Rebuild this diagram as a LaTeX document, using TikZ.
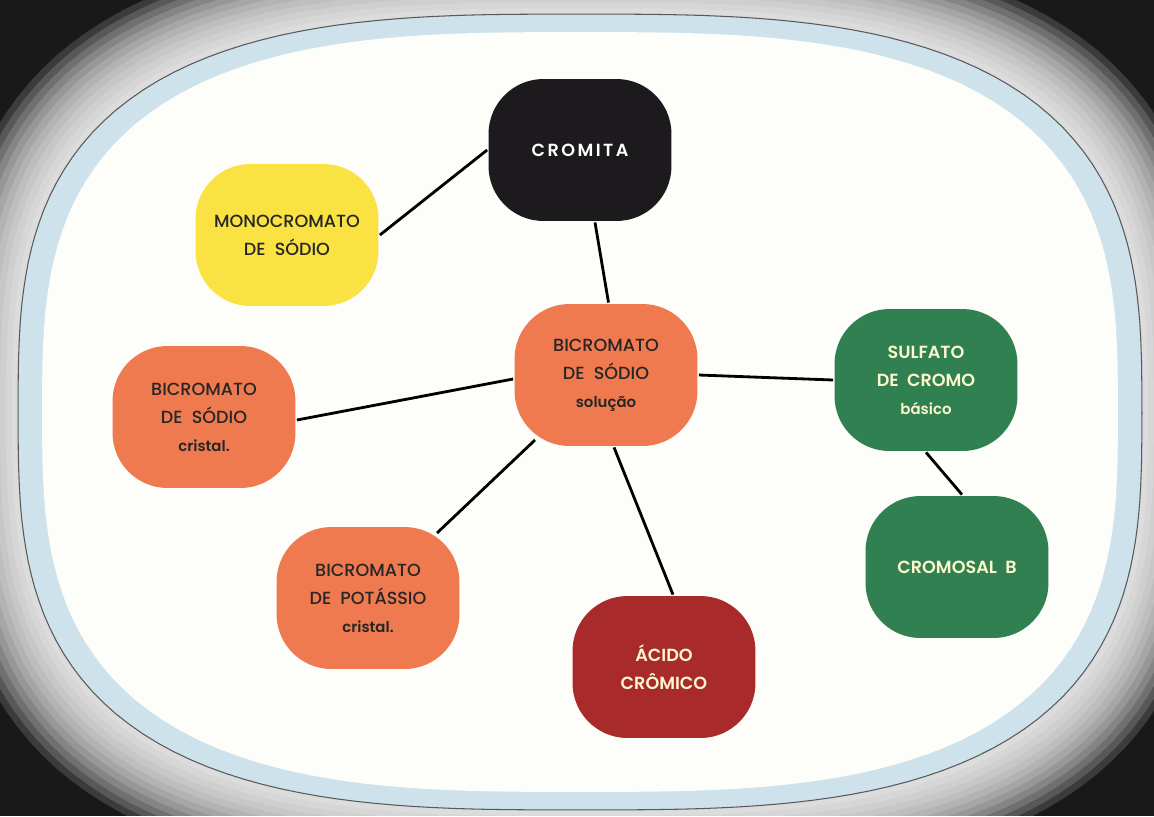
\documentclass[tikz,border=0pt]{standalone}
\usepackage{fontspec}
\setmainfont{Poppins}[UprightFont=* Medium,BoldFont=* SemiBold]
\usepackage{tikz}

\definecolor{tvblue}{RGB}{206,226,236}
\definecolor{paper}{RGB}{253,253,250}
\definecolor{cromita}{RGB}{28,26,28}
\definecolor{amarelo}{RGB}{249,226,66}
\definecolor{laranja}{RGB}{240,122,80}
\definecolor{verde}{RGB}{48,128,82}
\definecolor{vermelho}{RGB}{168,42,42}
\definecolor{creme}{RGB}{252,247,205}

\newcommand{\sublabel}[1]{{\fontsize{8.5}{16}\selectfont\bfseries #1}}

\tikzset{
  tvbox/.style={rounded corners=1.1cm,minimum width=3.66cm,minimum height=2.84cm,
    inner sep=0pt,align=center,font=\fontsize{10}{16}\selectfont},
  tvscreen/.style 2 args={insert path={plot[domain=0:360,samples=200,variable=\t]
    ({580+(#1)*cos(\t)/(abs(cos(\t))^3+abs(sin(\t))^3)^(1/3)},
     {412+(#2)*sin(\t)/(abs(cos(\t))^3+abs(sin(\t))^3)^(1/3)}) -- cycle}}
}

\begin{document}
\begin{tikzpicture}[x=0.02cm,y=-0.02cm,line width=1.6pt]
    \useasboundingbox (0,0) rectangle (1154,816);
    % dark frame around the screen
    \fill[black!90] (0,0) rectangle (1154,816);
    \begin{scope}
      \clip (0,0) rectangle (1154,816);
      \foreach \d in {1,...,12}
        \fill[white,opacity=0.15,tvscreen={562+6*\d}{398+6*\d}];
    \end{scope}
    \fill[tvblue,tvscreen={562}{398}];
    \draw[black!65,line width=0.6pt,tvscreen={562}{398}];
    \fill[paper,tvscreen={538}{380}];

    \node[tvbox,fill=cromita,text=white,font=\fontsize{10}{16}\selectfont\bfseries\addfontfeature{LetterSpace=14}] (crom) at (580,150) {CROMITA};
    \node[tvbox,fill=amarelo,text=black!85] (mono) at (287,235) {MONOCROMATO\\DE\ \ SÓDIO};
    \node[tvbox,fill=laranja,text=black!85] (bisol) at (606,375) {BICROMATO\\DE\ \ SÓDIO\\\sublabel{solução}};
    \node[tvbox,fill=laranja,text=black!85] (bicr) at (204,417) {BICROMATO\\DE\ \ SÓDIO\\\sublabel{cristal.}};
    \node[tvbox,fill=laranja,text=black!85] (pot) at (368,598) {BICROMATO\\DE\ \ POTÁSSIO\\\sublabel{cristal.}};
    \node[tvbox,fill=vermelho,text=creme,font=\fontsize{10}{16}\selectfont\bfseries] (acid) at (664,667) {ÁCIDO\\CRÔMICO};
    \node[tvbox,fill=verde,text=creme,font=\fontsize{10}{16}\selectfont\bfseries] (sulf) at (926,380) {SULFATO\\DE\ \ CROMO\\\sublabel{básico}};
    \node[tvbox,fill=verde,text=creme,font=\fontsize{10}{16}\selectfont\bfseries] (cmsl) at (957,567) {CROMOSAL\ \ B};

    \draw (crom.west)--(mono.east)  ;
    \draw ([xshift=0.3cm]crom.south)--([xshift=0.05cm]bisol.north)  ;
    \draw ([yshift=-0.08cm]bisol.west)--([yshift=-0.06cm]bicr.east)  ;
    \draw (bisol.east)--(sulf.west)  ;
    \draw ([shift={(-71,65)}]bisol.center)--([shift={(69,-65)}]pot.center)  ;
    \draw ([xshift=0.16cm]bisol.south)--([xshift=0.18cm]acid.north)  ;
    \draw (sulf.south)--([xshift=0.1cm]cmsl.north)  ;
\end{tikzpicture}
\end{document}
